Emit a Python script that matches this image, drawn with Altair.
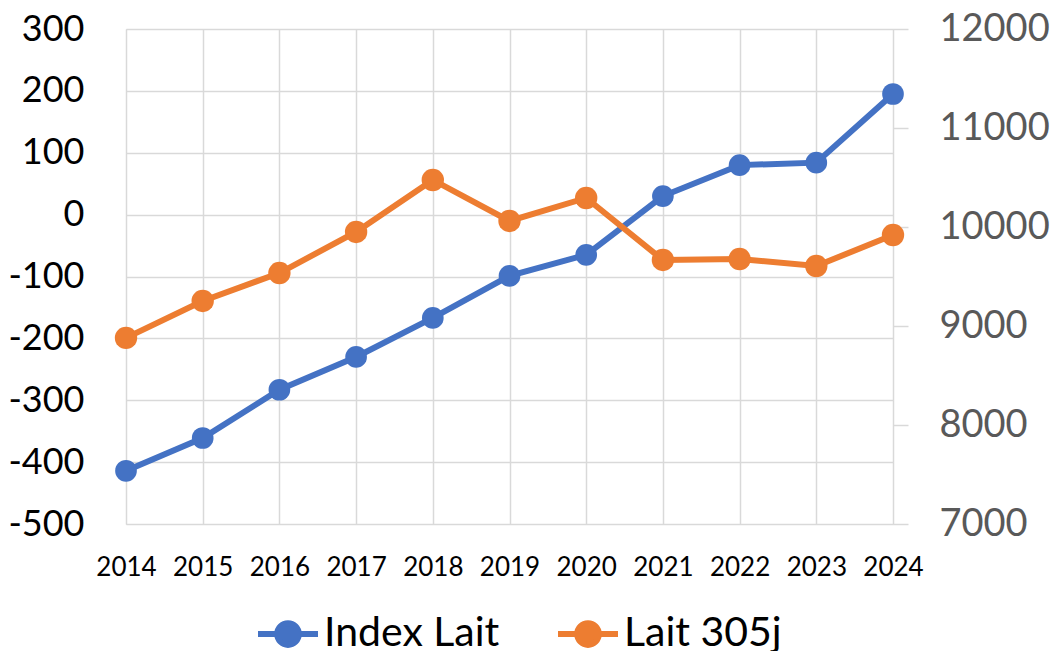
import altair as alt
import pandas as pd

years = [2014, 2015, 2016, 2017, 2018, 2019, 2020, 2021, 2022, 2023, 2024]
index_lait = [-414, -361, -283, -230, -167, -99, -65, 30, 80, 84, 195]
lait_305j = [8880, 9253, 9535, 9950, 10475, 10061, 10293, 9667, 9677, 9606, 9919]
series_names = ["Index Lait", "Lait 305j"]
series_colors = ["#4472C4", "#ED7D31"]
left_ticks = [-500, -400, -300, -200, -100, 0, 100, 200, 300]
right_ticks = [7000, 8000, 9000, 10000, 11000, 12000]

rows = []
for y, a, b in zip(years, index_lait, lait_305j):
    rows.append({"year": y, "series": series_names[0], "value": a})
    rows.append({"year": y, "series": series_names[1], "value": b})
df = pd.DataFrame(rows)

FONT = "Lato"
GRID = "#D9D9D9"

symbol_path = "M-1,0H1M0,-0.36A0.36,0.36,0,1,1,0,0.36A0.36,0.36,0,1,1,0,-0.36Z"

color = alt.Color(
    "series:N",
    scale=alt.Scale(domain=series_names, range=series_colors),
    legend=alt.Legend(
        title=None,
        orient="none",
        direction="horizontal",
        legendX=129,
        legendY=572,
        symbolType=symbol_path,
        symbolSize=3600,
        symbolStrokeWidth=6,
        symbolOpacity=1,
        labelFontSize=41,
        labelFont=FONT,
        labelColor="#000000",
        labelOffset=3,
        columnPadding=46,
        padding=0,
        labelLimit=400,
    ),
)

x = alt.X(
    "year:Q",
    scale=alt.Scale(domain=[2014, 2024], nice=False, zero=False),
    axis=alt.Axis(
        values=years,
        format="d",
        title=None,
        grid=True,
        gridColor=GRID,
        gridWidth=1.5,
        domain=False,
        ticks=False,
        labelFont=FONT,
        labelFontSize=26,
        labelColor="#000000",
        labelPadding=30,
        labelFlush=False,
    ),
)

base = alt.Chart(df)

left_y = alt.Y(
    "value:Q",
    scale=alt.Scale(domain=[-500, 300], nice=False, zero=False),
    axis=alt.Axis(
        orient="left",
        values=left_ticks,
        labelExpr="'' + datum.value",
        title=None,
        grid=True,
        gridColor=GRID,
        gridWidth=1.5,
        domain=False,
        ticks=False,
        labelFont=FONT,
        labelFontSize=36,
        labelColor="#000000",
        labelPadding=42,
    ),
)

right_y = alt.Y(
    "value:Q",
    scale=alt.Scale(domain=[7000, 12000], nice=False, zero=False),
    axis=alt.Axis(
        orient="right",
        values=right_ticks,
        format="d",
        title=None,
        grid=False,
        domain=False,
        ticks=True,
        tickColor=GRID,
        tickWidth=1.5,
        tickSize=15,
        labelFont=FONT,
        labelFontSize=38,
        labelColor="#595959",
        labelPadding=31,
    ),
)

blue = base.transform_filter(alt.datum.series == series_names[0])
orange = base.transform_filter(alt.datum.series == series_names[1])

left_layer = alt.layer(
    blue.mark_line(strokeWidth=6).encode(x=x, y=left_y, color=color),
    blue.mark_circle(size=470, opacity=1).encode(x=x, y=left_y, color=color),
)
right_layer = alt.layer(
    orange.mark_line(strokeWidth=6).encode(x=x, y=right_y, color=color),
    orange.mark_circle(size=500, opacity=1).encode(x=x, y=right_y, color=color),
)

chart = (
    alt.layer(left_layer, right_layer)
    .resolve_scale(y="independent")
    .properties(
        width=767,
        height=495,
        autosize=alt.AutoSizeParams(type="none"),
        padding={"left": 118, "top": 21, "right": 160, "bottom": 127},
    )
    .configure_view(stroke=None)
    .configure(background="#FFFFFF")
)

chart.save("out.html", embed_options={"renderer": "svg", "actions": False})
